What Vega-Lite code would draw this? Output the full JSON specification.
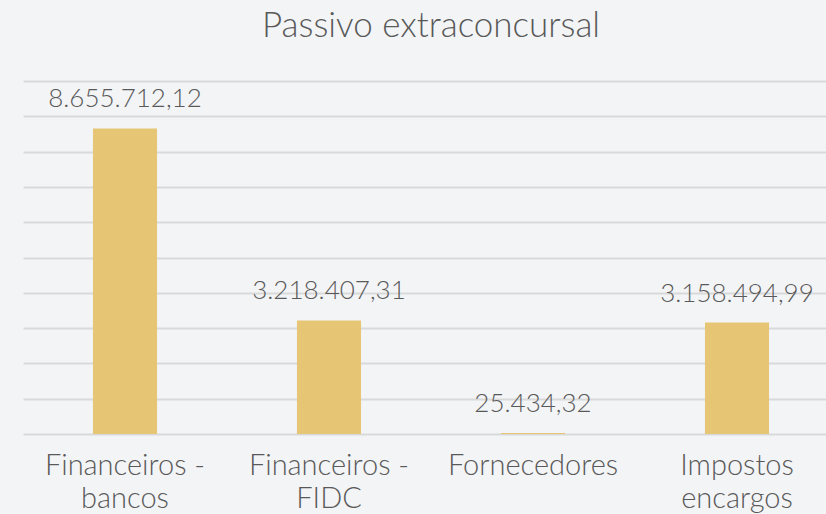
{
  "$schema": "https://vega.github.io/schema/vega-lite/v6.json",
  "width": 816,
  "height": 353,
  "autosize": {"type": "none"},
  "padding": {"top": 81, "left": 23, "right": 0, "bottom": 80},
  "background": "#F3F4F6",
  "config": {
    "view": {"stroke": null},
    "font": "Lato"
  },
  "title": {
    "text": "Passivo extraconcursal",
    "fontSize": 35,
    "font": "Lato",
    "fontWeight": 300,
    "color": "#595959",
    "anchor": "middle",
    "offset": 37
  },
  "data": {
    "values": [
      {"categoria": "Financeiros - bancos", "valor": 8655712.12, "rotulo": "8.655.712,12"},
      {"categoria": "Financeiros - FIDC", "valor": 3218407.31, "rotulo": "3.218.407,31"},
      {"categoria": "Fornecedores", "valor": 25434.32, "rotulo": "25.434,32"},
      {"categoria": "Impostos encargos", "valor": 3158494.99, "rotulo": "3.158.494,99"}
    ]
  },
  "encoding": {
    "x": {
      "field": "categoria",
      "type": "nominal",
      "sort": null,
      "scale": {"paddingInner": 0.686, "paddingOuter": 0.343},
      "axis": {
        "title": null,
        "labelAngle": 0,
        "labelExpr": "indexof(datum.label, ' - ') >= 0 ? [split(datum.label, ' - ')[0] + ' -', split(datum.label, ' - ')[1]] : split(datum.label, ' ')",
        "labelFontSize": 29,
        "labelFont": "Lato",
        "labelFontWeight": 300,
        "labelColor": "#595959",
        "labelPadding": 17,
        "labelLineHeight": 33,
        "labelBaseline": "top",
        "ticks": false,
        "domainColor": "#D9D9D9",
        "domainWidth": 2
      }
    },
    "y": {
      "field": "valor",
      "type": "quantitative",
      "scale": {"domain": [0, 10000000], "nice": false},
      "axis": {
        "title": null,
        "labels": false,
        "ticks": false,
        "domain": false,
        "values": [1000000, 2000000, 3000000, 4000000, 5000000, 6000000, 7000000, 8000000, 9000000, 10000000],
        "gridColor": "#D9D9D9",
        "gridWidth": 2
      }
    }
  },
  "layer": [
    {"mark": {"type": "bar", "color": "#E6C574"}},
    {
      "mark": {"type": "text", "dy": -29, "fontSize": 26, "font": "Lato", "fontWeight": 300, "color": "#595959"},
      "encoding": {"text": {"field": "rotulo"}}
    }
  ]
}
